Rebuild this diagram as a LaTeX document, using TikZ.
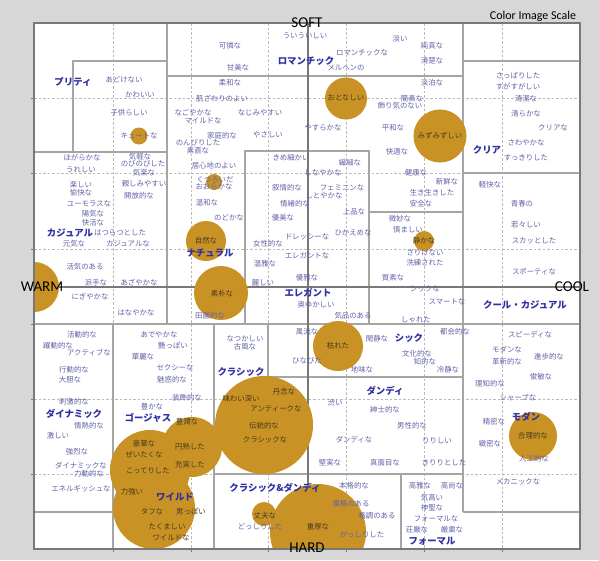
\documentclass[tikz,border=0pt]{standalone}
\usepackage{fontspec}
\setmainfont{Carlito}
\newfontfamily\jp{Noto Sans CJK JP}
\definecolor{bggray}{RGB}{215,215,215}
\definecolor{gridgray}{RGB}{185,185,185}
\definecolor{boxgray}{RGB}{165,165,165}
\definecolor{axisgray}{RGB}{120,120,120}
\definecolor{gold}{RGB}{201,146,36}
\definecolor{wordblue}{RGB}{98,98,168}
\definecolor{catblue}{RGB}{48,48,165}
\definecolor{bubtext}{RGB}{72,58,32}

\begin{document}
\begin{tikzpicture}[x=1pt,y=-1pt,
  word/.style={font=\jp\fontsize{7.4}{8}\selectfont,text=wordblue,inner sep=0pt},
  onbub/.style={word,text=bubtext},
  cat/.style={font=\jp\bfseries\fontsize{9.4}{10}\selectfont,text=catblue,inner sep=0pt},
  pole/.style={font=\fontsize{15}{16}\selectfont,inner sep=0pt},
  gridline/.style={gridgray,dash pattern=on 2.5pt off 2pt,line width=0.6pt},
  boxline/.style={boxgray,line width=1.3pt},
  axisline/.style={axisgray,line width=1.4pt},
  bubble/.style={fill=gold}]
\useasboundingbox (0,0) rectangle (599,560);
\fill[bggray] (0,0) rectangle (599,560);
\fill[white] (34,23) rectangle (580,549);

% dashed grid
\draw[gridline] (113,23) -- (113,549);
\draw[gridline] (191,23) -- (191,549);
\draw[gridline] (268,23) -- (268,549);
\draw[gridline] (346,23) -- (346,549);
\draw[gridline] (424,23) -- (424,549);
\draw[gridline] (502,23) -- (502,549);
\draw[gridline] (34,98) -- (580,98);
\draw[gridline] (34,173) -- (580,173);
\draw[gridline] (34,249) -- (580,249);
\draw[gridline] (34,399) -- (580,399);
\draw[gridline] (34,474) -- (580,474);

% image areas
\draw[boxline] (34,152) -- (167,152);
\draw[boxline] (73,152) -- (73,61) -- (167,61);
\draw[boxline] (167,23) -- (167,324);
\draw[boxline] (167,76) -- (463,76);
\draw[boxline] (463,23) -- (463,512);
\draw[boxline] (463,61) -- (580,61);
\draw[boxline] (463,173) -- (580,173);
\draw[boxline] (245,324) -- (245,151) -- (369,151) -- (369,324);
\draw[boxline] (369,212) -- (463,212);
\draw[boxline] (34,324) -- (580,324);
\draw[boxline] (113,324) -- (113,549);
\draw[boxline] (34,512) -- (113,512);
\draw[boxline] (214,324) -- (214,549);
\draw[boxline] (268,324) -- (268,377) -- (463,377);
\draw[boxline] (214,474) -- (463,474);
\draw[boxline] (401,474) -- (401,549);
\draw[boxline] (463,512) -- (580,512);

\draw[axisline] (308,23) -- (308,549);
\draw[axisline] (34,287) -- (580,287);

\begin{scope}
\clip (34,23) rectangle (580,549);
\fill[bubble] (34,287) circle (25pt);
\fill[bubble] (139,136) circle (8.5pt);
\fill[bubble] (214,182) circle (8pt);
\fill[bubble] (346,98.5) circle (21pt);
\fill[bubble] (440,136) circle (26.5pt);
\fill[bubble] (206,241) circle (20pt);
\fill[bubble] (221,293) circle (27pt);
\fill[bubble] (424,241) circle (10pt);
\fill[bubble] (338,346) circle (25pt);
\fill[bubble] (533,436) circle (24pt);
\fill[bubble] (264,425) circle (49pt);
\fill[bubble] (264,514) circle (12pt);
\fill[bubble] (318,532) circle (48pt);
\fill[bubble] (192,447) circle (30pt);
\fill[bubble] (150,470) circle (40pt);
\fill[bubble] (154,508) circle (41pt);
\end{scope}

\draw[axisgray,line width=1.2pt] (34,23) rectangle (580,549);
\draw[axisgray] (31,98) -- (34,98);
\draw[axisgray] (31,173) -- (34,173);
\draw[axisgray] (31,249) -- (34,249);
\draw[axisgray] (31,324) -- (34,324);
\draw[axisgray] (31,399) -- (34,399);
\draw[axisgray] (31,474) -- (34,474);
\draw[axisgray] (113,549) -- (113,552);
\draw[axisgray] (191,549) -- (191,552);
\draw[axisgray] (268,549) -- (268,552);
\draw[axisgray] (346,549) -- (346,552);
\draw[axisgray] (424,549) -- (424,552);
\draw[axisgray] (502,549) -- (502,552);

\node[font=\fontsize{12}{13}\selectfont,inner sep=0pt] (title) at (533,16) {Color Image Scale};
\node[pole] (soft) at (307,23) {SOFT};
\node[pole] (warm) at (42,287) {WARM};
\node[pole] (cool) at (572,287) {COOL};
\node[pole] (hard) at (307,548) {HARD};

\node[cat] (pretty) at (73,82) {プリティ};
\node[cat] (romantic) at (306,61) {ロマンチック};
\node[cat] (clear) at (487,150) {クリア};
\node[cat] (casual) at (70,233) {カジュアル};
\node[cat] (natural) at (210,253) {ナチュラル};
\node[cat] (elegant) at (308,293) {エレガント};
\node[cat] (chic) at (409,338) {シック};
\node[cat] (coolcasual) at (525,305) {クール・カジュアル};
\node[cat] (dynamic) at (74,414) {ダイナミック};
\node[cat] (gorgeous) at (148,418) {ゴージャス};
\node[cat] (wild) at (175,497) {ワイルド};
\node[cat] (classic) at (241,372) {クラシック};
\node[cat] (dandy) at (385,391) {ダンディ};
\node[cat] (clsdandy) at (275,488) {クラシック\&ダンディ};
\node[cat] (formal) at (432,541) {フォーマル};
\node[cat] (modern) at (526,417) {モダン};

\node[word] (w1) at (230,46) {可憐な};
\node[word] (w2) at (238,68) {甘美な};
\node[word] (w3) at (305,36) {ういういしい};
\node[word] (w4) at (362,53) {ロマンチックな};
\node[word] (w5) at (346,68) {メルヘンの};
\node[word] (w6) at (400,39) {淡い};
\node[word] (w7) at (432,46) {純真な};
\node[word] (w8) at (432,61) {清楚な};
\node[word] (w9) at (230,83) {柔和な};
\node[word] (w10) at (222,99) {肌ざわりのよい};
\node[word] (w11) at (193,113) {なごやかな};
\node[word] (w12) at (203,121) {マイルドな};
\node[word] (w13) at (260,113) {なじみやすい};
\node[word] (w14) at (222,136) {家庭的な};
\node[word] (w15) at (268,135) {やさしい};
\node[word] (w16) at (198,143) {のんびりした};
\node[word] (w17) at (198,151) {素直な};
\node[word] (w18) at (214,166) {居心地のよい};
\node[word] (w19) at (215,180) {くつろいだ};
\node[word] (w20) at (214,187) {おおらかな};
\node[word] (w21) at (207,203) {温和な};
\node[word] (w22) at (229,218) {のどかな};
\node[onbub] (w23) at (206,241) {自然な};
\node[onbub] (w24) at (222,294) {素朴な};
\node[word] (w25) at (210,316) {田園的な};
\node[word] (w26) at (323,128) {やすらかな};
\node[onbub] (w27) at (346,98) {おとなしい};
\node[word] (w28) at (432,83) {淡泊な};
\node[word] (w29) at (412,99) {簡素な};
\node[word] (w30) at (400,106) {飾り気のない};
\node[word] (w31) at (393,128) {平和な};
\node[onbub] (w32) at (440,136) {みずみずしい};
\node[word] (w33) at (397,152) {快適な};
\node[word] (w34) at (416,173) {健康な};
\node[word] (w35) at (447,182) {新鮮な};
\node[word] (w36) at (432,193) {生き生きした};
\node[word] (w37) at (421,204) {安全な};
\node[word] (w38) at (291,158) {きめ細かい};
\node[word] (w39) at (350,163) {繊細な};
\node[word] (w40) at (323,173) {しなやかな};
\node[word] (w41) at (342,188) {フェミニンな};
\node[word] (w42) at (324,196) {しとやかな};
\node[word] (w43) at (287,188) {叙情的な};
\node[word] (w44) at (295,204) {情緒的な};
\node[word] (w45) at (283,218) {優美な};
\node[word] (w46) at (354,212) {上品な};
\node[word] (w47) at (307,237) {ドレッシーな};
\node[word] (w48) at (353,233) {ひかえめな};
\node[word] (w49) at (268,244) {女性的な};
\node[word] (w50) at (307,256) {エレガントな};
\node[word] (w51) at (265,264) {温雅な};
\node[word] (w52) at (307,278) {優雅な};
\node[word] (w53) at (263,283) {麗しい};
\node[word] (w54) at (316,305) {奥ゆかしい};
\node[word] (w55) at (353,316) {気品のある};
\node[word] (w56) at (400,219) {微妙な};
\node[word] (w57) at (408,230) {慎ましい};
\node[onbub] (w58) at (424,241) {静かな};
\node[word] (w59) at (425,253) {さりげない};
\node[word] (w60) at (425,263) {洗練された};
\node[word] (w61) at (393,278) {質素な};
\node[word] (w62) at (425,289) {シックな};
\node[word] (w63) at (447,302) {スマートな};
\node[word] (w64) at (416,320) {しゃれた};
\node[word] (w65) at (455,332) {都会的な};
\node[onbub] (w66) at (338,346) {枯れた};
\node[word] (w67) at (377,339) {閑静な};
\node[word] (w68) at (417,354) {文化的な};
\node[word] (w69) at (425,362) {知的な};
\node[word] (w70) at (448,370) {冷静な};
\node[word] (w71) at (362,370) {地味な};
\node[word] (w72) at (307,332) {風流な};
\node[word] (w73) at (307,361) {ひなびた};
\node[word] (w74) at (245,339) {なつかしい};
\node[word] (w75) at (245,347) {古風な};

\node[word] (w76) at (518,76) {さっぱりした};
\node[word] (w77) at (518,87) {すがすがしい};
\node[word] (w78) at (526,99) {清潔な};
\node[word] (w79) at (526,114) {清らかな};
\node[word] (w80) at (553,128) {クリアな};
\node[word] (w81) at (526,143) {さわやかな};
\node[word] (w82) at (526,158) {すっきりした};
\node[word] (w83) at (490,185) {軽快な};
\node[word] (w84) at (522,204) {青春の};
\node[word] (w85) at (526,225) {若々しい};
\node[word] (w86) at (534,241) {スカッとした};
\node[word] (w87) at (534,272) {スポーティな};
\node[word] (w88) at (530,335) {スピーディな};
\node[word] (w89) at (507,350) {モダンな};
\node[word] (w90) at (507,362) {革新的な};
\node[word] (w91) at (549,357) {進歩的な};
\node[word] (w92) at (541,377) {俊敏な};
\node[word] (w93) at (490,384) {理知的な};
\node[word] (w94) at (518,398) {シャープな};
\node[word] (w95) at (494,422) {精密な};
\node[word] (w96) at (490,444) {緻密な};
\node[onbub] (w97) at (533,436) {合理的な};
\node[word] (w98) at (534,459) {人工的な};
\node[word] (w99) at (518,482) {メカニックな};

\node[word] (w100) at (124,80) {あどけない};
\node[word] (w101) at (140,95) {かわいい};
\node[word] (w102) at (129,113) {子供らしい};
\node[word] (w103) at (139,136) {キュートな};
\node[word] (w104) at (82,158) {ほがらかな};
\node[word] (w105) at (81,170) {うれしい};
\node[word] (w106) at (140,157) {気軽な};
\node[word] (w107) at (143,164) {のびのびした};
\node[word] (w108) at (144,173) {気楽な};
\node[word] (w109) at (144,184) {親しみやすい};
\node[word] (w110) at (81,185) {楽しい};
\node[word] (w111) at (81,193) {愉快な};
\node[word] (w112) at (139,196) {開放的な};
\node[word] (w113) at (89,204) {ユーモラスな};
\node[word] (w114) at (93,214) {陽気な};
\node[word] (w115) at (93,223) {快活な};
\node[word] (w116) at (120,233) {はつらつとした};
\node[word] (w117) at (74,244) {元気な};
\node[word] (w118) at (128,244) {カジュアルな};
\node[word] (w119) at (85,267) {活気のある};
\node[word] (w120) at (96,283) {派手な};
\node[word] (w121) at (139,282) {あざやかな};
\node[word] (w122) at (90,297) {にぎやかな};
\node[word] (w123) at (136,313) {はなやかな};
\node[word] (w124) at (82,335) {活動的な};
\node[word] (w125) at (58,346) {躍動的な};
\node[word] (w126) at (89,353) {アクティブな};
\node[word] (w127) at (74,370) {行動的な};
\node[word] (w128) at (70,380) {大胆な};
\node[word] (w129) at (74,402) {刺激的な};
\node[word] (w130) at (89,426) {情熱的な};
\node[word] (w131) at (58,436) {激しい};
\node[word] (w132) at (77,452) {強烈な};
\node[word] (w133) at (81,466) {ダイナミックな};
\node[word] (w134) at (89,474) {力動的な};
\node[word] (w135) at (81,489) {エネルギッシュな};

\node[word] (w136) at (159,335) {あでやかな};
\node[word] (w137) at (173,346) {艶っぽい};
\node[word] (w138) at (143,357) {華麗な};
\node[word] (w139) at (175,368) {セクシーな};
\node[word] (w140) at (172,380) {魅惑的な};
\node[word] (w141) at (187,398) {装飾的な};
\node[word] (w142) at (152,407) {豊かな};
\node[onbub] (w143) at (187,422) {豊潤な};
\node[onbub] (w144) at (144,444) {豪華な};
\node[onbub] (w145) at (144,455) {ぜいたくな};
\node[onbub] (w146) at (190,447) {円熟した};
\node[onbub] (w147) at (148,471) {こってりした};
\node[onbub] (w148) at (190,465) {充実した};
\node[onbub] (w149) at (132,492) {力強い};
\node[onbub] (w150) at (152,512) {タフな};
\node[onbub] (w151) at (191,512) {男っぽい};
\node[onbub] (w152) at (167,527) {たくましい};
\node[onbub] (w153) at (171,538) {ワイルドな};

\node[onbub] (w154) at (284,392) {丹念な};
\node[onbub] (w155) at (241,399) {味わい深い};
\node[onbub] (w156) at (276,409) {アンティークな};
\node[onbub] (w157) at (264,426) {伝統的な};
\node[onbub] (w158) at (265,440) {クラシックな};
\node[onbub] (w159) at (265,516) {丈夫な};
\node[word] (w160) at (260,527) {どっしりした};
\node[onbub] (w161) at (318,527) {重厚な};
\node[word] (w162) at (354,486) {本格的な};
\node[word] (w163) at (351,504) {風格のある};
\node[word] (w164) at (377,516) {格調のある};
\node[word] (w165) at (362,535) {がっしりした};
\node[word] (w166) at (335,403) {渋い};
\node[word] (w167) at (385,410) {紳士的な};
\node[word] (w168) at (412,426) {男性的な};
\node[word] (w169) at (354,440) {ダンディな};
\node[word] (w170) at (437,441) {りりしい};
\node[word] (w171) at (330,463) {堅実な};
\node[word] (w172) at (385,463) {真面目な};
\node[word] (w173) at (444,463) {きりりとした};
\node[word] (w174) at (420,486) {高雅な};
\node[word] (w175) at (452,486) {高尚な};
\node[word] (w176) at (432,498) {気高い};
\node[word] (w177) at (432,508) {神聖な};
\node[word] (w178) at (436,519) {フォーマルな};
\node[word] (w179) at (417,530) {荘厳な};
\node[word] (w180) at (452,530) {厳粛な};
\end{tikzpicture}
\end{document}
